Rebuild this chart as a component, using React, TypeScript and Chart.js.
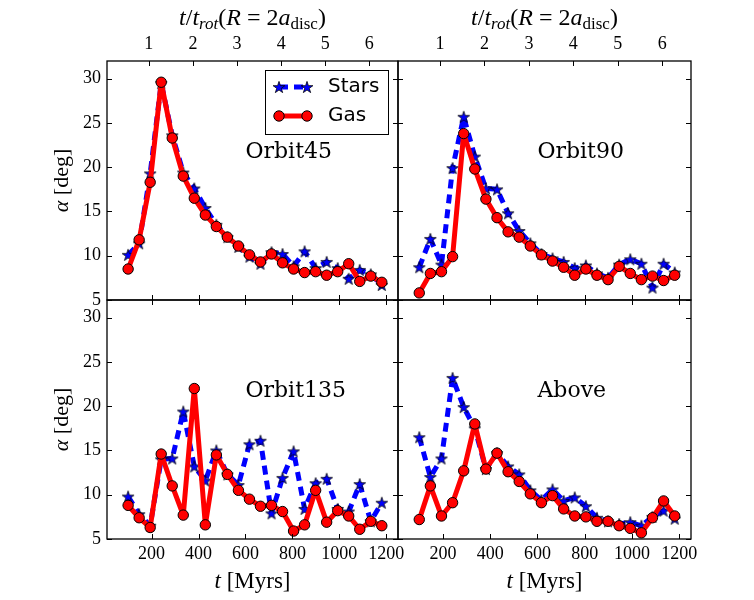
import React, { useEffect, useRef } from "react";
import { Chart, registerables } from "chart.js";

Chart.register(...registerables);

// ---------------- data ----------------
const times = [100, 147, 194, 241, 288, 335, 382, 429, 476, 523, 570, 617, 664, 711, 758, 805, 852, 899, 946, 993, 1040, 1087, 1134, 1181];

const stars45 = [10.1, 11.4, 19.3, 29.5, 23.6, 19.4, 17.6, 15.4, 13.5, 12.1, 11.0, 9.9, 9.1, 10.4, 10.2, 8.8, 10.5, 8.6, 9.3, 8.6, 7.4, 8.4, 7.9, 6.7];
const gas45 = [8.5, 11.8, 18.3, 29.6, 23.3, 19.0, 16.5, 14.6, 13.3, 12.1, 11.1, 10.1, 9.3, 10.2, 9.2, 8.5, 8.1, 8.2, 7.8, 8.2, 9.1, 7.1, 7.7, 7.0];

const stars90 = [8.7, 11.9, 9.0, 19.9, 25.7, 21.2, 17.6, 17.5, 14.8, 12.8, 11.4, 10.2, 9.7, 9.3, 8.6, 8.9, 8.0, 7.5, 9.0, 9.6, 9.1, 6.4, 9.1, 8.1];
const gas90 = [5.8, 8.0, 8.2, 9.9, 23.8, 19.8, 16.4, 14.3, 12.7, 12.1, 11.1, 10.1, 9.4, 8.7, 7.8, 8.5, 7.8, 7.3, 8.8, 8.0, 7.3, 7.7, 7.2, 7.8];

const stars135 = [9.8, 7.8, 6.5, 14.0, 14.1, 19.4, 13.2, 11.6, 15.0, 12.3, 11.1, 15.7, 16.1, 7.9, 11.9, 14.9, 8.4, 11.3, 11.8, 8.4, 8.1, 11.2, 7.0, 9.1];
const gas135 = [8.8, 7.4, 6.3, 14.6, 11.0, 7.7, 22.0, 6.6, 14.5, 12.3, 10.5, 9.5, 8.7, 8.8, 8.1, 5.9, 6.6, 10.5, 6.9, 8.2, 7.6, 6.1, 7.0, 6.5];

const starsAbove = [16.5, 12.0, 14.1, 23.2, 19.9, 17.5, 12.9, 14.7, 13.2, 12.3, 10.5, 9.4, 10.6, 9.3, 9.7, 8.7, 7.4, 7.0, 6.7, 6.9, 6.5, 7.5, 8.2, 7.3];
const gasAbove = [7.2, 11.0, 7.6, 9.1, 12.7, 18.0, 12.9, 14.7, 12.6, 11.5, 10.1, 9.1, 9.9, 8.4, 7.6, 7.5, 7.0, 7.0, 6.5, 6.2, 5.7, 7.4, 9.3, 7.6];

const xTicks = [200, 400, 600, 800, 1000, 1200];
const rotTicks = [1, 2, 3, 4, 5, 6];
const yTicks = [5, 10, 15, 20, 25, 30];
const panelNames = ["Orbit45", "Orbit90", "Orbit135", "Above"];
const seriesNames = ["Stars", "Gas"];
const panelStars = [stars45, stars90, stars135, starsAbove];
const panelGas = [gas45, gas90, gas135, gasAbove];

const X_MIN = 10;
const X_MAX = 1250;
const T_ROT = 188;
const Y_MIN = 5;
const Y_MAX = 32;
const NOTE_X = 600;
const NOTE_Y = 21;

// ---------------- layout / style ----------------
const W = 754;
const H = 600;
const RECTS = [
  { l: 107, t: 61, r: 398, b: 300 },
  { l: 398, t: 61, r: 691, b: 300 },
  { l: 107, t: 300, r: 398, b: 539 },
  { l: 398, t: 300, r: 691, b: 539 },
];
const SERIF = "'Liberation Serif', serif";
const BLUE = "#0000ff";
const RED = "#ff0000";

type Part = { t: string; italic?: boolean; size?: number; dy?: number };

function partFont(p: Part, base: number) {
  return `${p.italic ? "italic " : ""}${p.size ?? base}px ${SERIF}`;
}

function drawRich(ctx: CanvasRenderingContext2D, parts: Part[], x: number, y: number, base: number) {
  let total = 0;
  for (const p of parts) {
    ctx.font = partFont(p, base);
    total += ctx.measureText(p.t).width;
  }
  let cx = x - total / 2;
  ctx.textAlign = "left";
  ctx.textBaseline = "alphabetic";
  for (const p of parts) {
    ctx.font = partFont(p, base);
    ctx.fillText(p.t, cx, y + (p.dy ?? 0));
    cx += ctx.measureText(p.t).width;
  }
}

const titleParts: Part[] = [
  { t: "t", italic: true },
  { t: "/" },
  { t: "t", italic: true },
  { t: "rot", italic: true, size: 17, dy: 4 },
  { t: "(" },
  { t: "R", italic: true },
  { t: " = " },
  { t: "2" },
  { t: "a", italic: true },
  { t: "disc", size: 17, dy: 4 },
  { t: ")" },
];
const xLabelParts: Part[] = [{ t: "t", italic: true }, { t: " [Myrs]" }];
const yLabelParts: Part[] = [{ t: "\u03b1", italic: true }, { t: " [deg]" }];

function makeStar(): HTMLCanvasElement {
  const c = document.createElement("canvas");
  const s = 16;
  c.width = s;
  c.height = s;
  const ctx = c.getContext("2d")!;
  const R = 6.2;
  const r = R * 0.381966;
  ctx.beginPath();
  for (let i = 0; i < 10; i++) {
    const rad = i % 2 === 0 ? R : r;
    const a = -Math.PI / 2 + (i * Math.PI) / 5;
    const x = s / 2 + rad * Math.cos(a);
    const y = s / 2 + 0.6 + rad * Math.sin(a);
    if (i === 0) ctx.moveTo(x, y);
    else ctx.lineTo(x, y);
  }
  ctx.closePath();
  ctx.fillStyle = BLUE;
  ctx.fill();
  ctx.lineWidth = 0.8;
  ctx.strokeStyle = "#000";
  ctx.stroke();
  return c;
}

function buildConfig(idx: number): any {
  const rect = RECTS[idx];
  const row = idx < 2 ? 0 : 1;
  const col = idx % 2;
  const star = makeStar();
  const tickFont = { family: SERIF, size: 18 };
  const noGrid = { display: false, drawTicks: false, tickLength: 0 };

  const decor = {
    id: "decor" + idx,
    afterDraw(chart: any) {
      const ctx: CanvasRenderingContext2D = chart.ctx;
      const xs = chart.scales.x;
      const x2 = chart.scales.x2;
      const ys = chart.scales.y;
      const { left: l, right: r, top: t, bottom: b } = chart.chartArea;
      const TL = 5;
      ctx.save();
      ctx.strokeStyle = "#000";
      ctx.lineWidth = 1;
      ctx.beginPath();
      for (const v of xTicks) {
        const px = Math.round(xs.getPixelForValue(v)) + 0.5;
        ctx.moveTo(px, b);
        ctx.lineTo(px, b - TL);
        if (row === 1) {
          ctx.moveTo(px, t);
          ctx.lineTo(px, t + TL);
        }
      }
      if (row === 0) {
        for (const v of rotTicks) {
          const px = Math.round(x2.getPixelForValue(v)) + 0.5;
          ctx.moveTo(px, t);
          ctx.lineTo(px, t + TL);
        }
      }
      for (const v of yTicks) {
        const py = Math.round(ys.getPixelForValue(v)) + 0.5;
        ctx.moveTo(l, py);
        ctx.lineTo(l + TL, py);
        ctx.moveTo(r, py);
        ctx.lineTo(r - TL, py);
      }
      ctx.stroke();
      ctx.lineWidth = 1.3;
      ctx.strokeRect(l, t, r - l, b - t);

      // panel annotation
      ctx.fillStyle = "#000";
      ctx.font = "22px 'DejaVu Serif'";
      ctx.textAlign = "left";
      ctx.textBaseline = "alphabetic";
      ctx.fillText(panelNames[idx], xs.getPixelForValue(NOTE_X), ys.getPixelForValue(NOTE_Y));

      // axis labels
      const cxm = (l + r) / 2;
      if (row === 0) drawRich(ctx, titleParts, cxm, 25, 24);
      if (row === 1) drawRich(ctx, xLabelParts, cxm, 588, 23);
      if (col === 0) {
        ctx.save();
        ctx.translate(68, (t + b) / 2);
        ctx.rotate(-Math.PI / 2);
        drawRich(ctx, yLabelParts, 0, 0, 22);
        ctx.restore();
      }

      // legend
      if (idx === 0) {
        const bx = r - 133;
        const by = t + 9;
        const bw = 123;
        const bh = 64;
        ctx.fillStyle = "#fff";
        ctx.fillRect(bx, by, bw, bh);
        ctx.lineWidth = 1;
        ctx.strokeStyle = "#000";
        ctx.strokeRect(bx + 0.5, by + 0.5, bw, bh);
        const hx1 = bx + 14;
        const hx2 = bx + 42;
        const rows = [by + 17, by + 46];
        ctx.save();
        ctx.strokeStyle = BLUE;
        ctx.lineWidth = 5;
        ctx.setLineDash([9, 6]);
        ctx.lineCap = "butt";
        ctx.beginPath();
        ctx.moveTo(hx1, rows[0]);
        ctx.lineTo(hx2, rows[0]);
        ctx.stroke();
        ctx.restore();
        ctx.drawImage(star, hx1 - star.width / 2, rows[0] - star.height / 2);
        ctx.drawImage(star, hx2 - star.width / 2, rows[0] - star.height / 2);
        ctx.strokeStyle = RED;
        ctx.lineWidth = 5;
        ctx.beginPath();
        ctx.moveTo(hx1, rows[1]);
        ctx.lineTo(hx2, rows[1]);
        ctx.stroke();
        for (const hx of [hx1, hx2]) {
          ctx.beginPath();
          ctx.arc(hx, rows[1], 5.2, 0, Math.PI * 2);
          ctx.fillStyle = RED;
          ctx.fill();
          ctx.lineWidth = 1;
          ctx.strokeStyle = "#000";
          ctx.stroke();
        }
        ctx.fillStyle = "#000";
        ctx.font = "20px 'DejaVu Sans'";
        ctx.textBaseline = "middle";
        ctx.textAlign = "left";
        ctx.fillText(seriesNames[0], bx + 63, rows[0]);
        ctx.fillText(seriesNames[1], bx + 63, rows[1]);
      }
      ctx.restore();
    },
  };

  return {
    type: "line",
    data: {
      datasets: [
        {
          label: seriesNames[0],
          data: times.map((x, i) => ({ x, y: panelStars[idx][i] })),
          borderColor: BLUE,
          borderWidth: 5,
          borderDash: [9, 6],
          borderCapStyle: "butt",
          borderJoinStyle: "round",
          pointStyle: star,
          pointRadius: 6,
          tension: 0,
          fill: false,
          order: 2,
          clip: 0,
          xAxisID: "x",
          yAxisID: "y",
        },
        {
          label: seriesNames[1],
          data: times.map((x, i) => ({ x, y: panelGas[idx][i] })),
          borderColor: RED,
          borderWidth: 5,
          borderCapStyle: "square",
          borderJoinStyle: "round",
          pointStyle: "circle",
          pointRadius: 5.2,
          pointBackgroundColor: RED,
          pointBorderColor: "#000",
          pointBorderWidth: 1,
          tension: 0,
          fill: false,
          order: 1,
          clip: 0,
          xAxisID: "x",
          yAxisID: "y",
        },
      ],
    },
    options: {
      animation: false,
      responsive: false,
      maintainAspectRatio: false,
      events: [],
      layout: { padding: { left: 0, top: 0, right: W - rect.r, bottom: 0 }, autoPadding: false },
      plugins: { legend: { display: false }, tooltip: { enabled: false }, title: { display: false } },
      scales: {
        x: {
          type: "linear",
          position: "bottom",
          min: X_MIN,
          max: X_MAX,
          grid: noGrid,
          border: { display: false },
          ticks: { display: row === 1, font: tickFont, color: "#000", padding: 4, maxRotation: 0, autoSkip: false, callback: (v: number) => String(v) },
          afterBuildTicks: (s: any) => { s.ticks = xTicks.map((value) => ({ value })); },
          afterFit: (s: any) => { s.height = H - rect.b; },
        },
        x2: {
          type: "linear",
          position: "top",
          min: X_MIN / T_ROT,
          max: X_MAX / T_ROT,
          grid: noGrid,
          border: { display: false },
          ticks: { display: row === 0, font: tickFont, color: "#000", padding: 6, maxRotation: 0, autoSkip: false, callback: (v: number) => String(v) },
          afterBuildTicks: (s: any) => { s.ticks = rotTicks.map((value) => ({ value })); },
          afterFit: (s: any) => { s.height = rect.t; },
        },
        y: {
          type: "linear",
          position: "left",
          min: Y_MIN,
          max: Y_MAX,
          grid: noGrid,
          border: { display: false },
          ticks: { display: col === 0, font: tickFont, color: "#000", padding: 6, autoSkip: false, callback: (v: number) => String(v) },
          afterBuildTicks: (s: any) => { s.ticks = yTicks.map((value) => ({ value })); },
          afterFit: (s: any) => { s.width = rect.l; },
        },
      },
    },
    plugins: [decor],
  };
}

function Panel({ idx }: { idx: number }) {
  const ref = useRef<HTMLCanvasElement>(null);
  useEffect(() => {
    const chart = new Chart(ref.current as HTMLCanvasElement, buildConfig(idx));
    return () => chart.destroy();
  }, [idx]);
  return <canvas ref={ref} width={W} height={H} style={{ position: "absolute", left: 0, top: 0 }} />;
}

export default function App() {
  return (
    <div style={{ position: "fixed", left: 0, top: 0, width: W, height: H, background: "#fff" }}>
      {[0, 1, 2, 3].map((i) => (
        <Panel key={i} idx={i} />
      ))}
    </div>
  );
}
